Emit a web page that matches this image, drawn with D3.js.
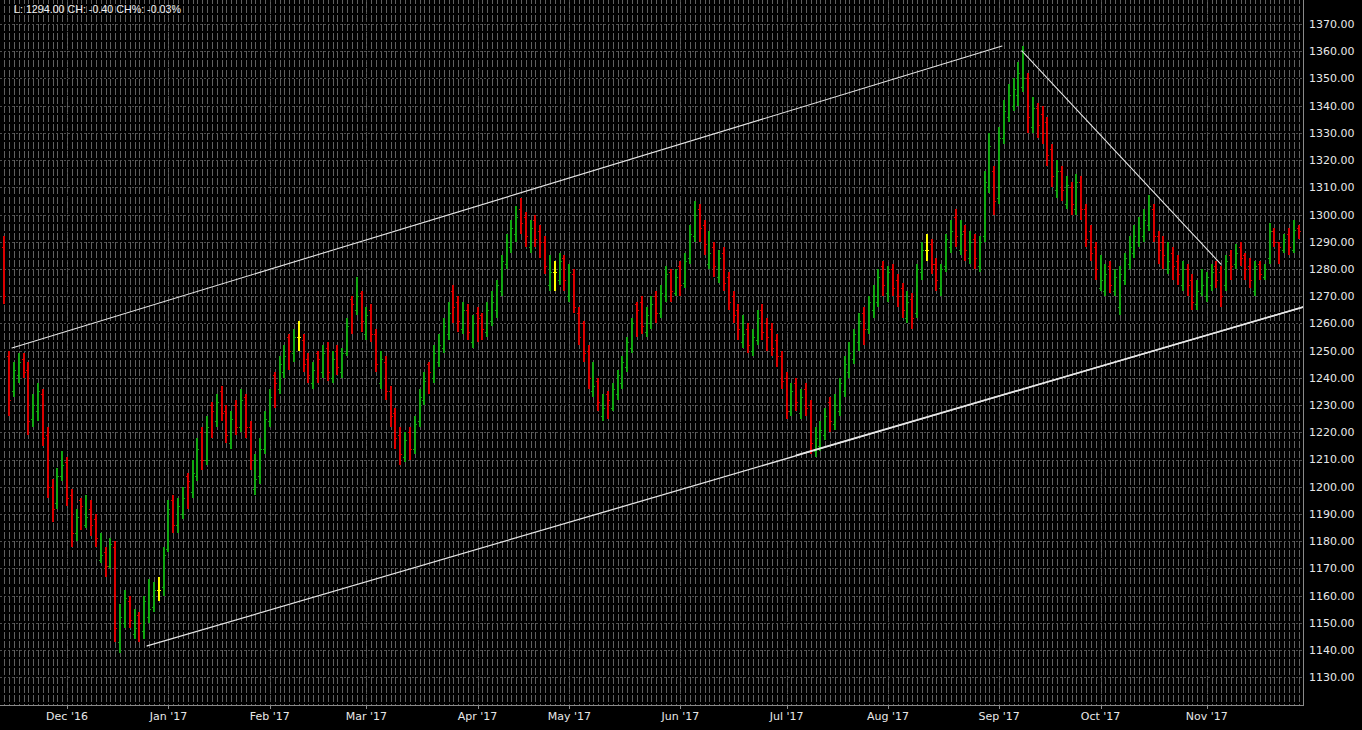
<!DOCTYPE html>
<html><head><meta charset="utf-8">
<script src="https://cdn.jsdelivr.net/npm/d3@7/dist/d3.min.js"></script>
<style>html,body{margin:0;padding:0;background:#000;overflow:hidden}</style>
</head><body>
<svg id="chart" width="1362" height="730"></svg>
<script>
// ---------- DATA ----------
const firstDay = "2016-11-11";
const holidays = ["2016-11-24","2016-12-26","2017-01-02","2017-04-14","2017-11-23"];
const barCount = 269;
const monthLabels = ["Dec '16","Jan '17","Feb '17","Mar '17","Apr '17","May '17","Jun '17","Jul '17","Aug '17","Sep '17","Oct '17","Nov '17"];
const yTicks = [1130,1140,1150,1160,1170,1180,1190,1200,1210,1220,1230,1240,1250,1260,1270,1280,1290,1300,1310,1320,1330,1340,1350,1360,1370];
const headerText = "L: 1294.00 CH: -0.40 CH%: -0.03%";

const opens = [
1288,1248,1235,1241,1247,1243,1225,1228,1234,1219,
1200,1194,1204,1209,1197,1183,1195,1186,1192,1188,
1173,1176,1171,1178,1143,1150,1158,1146,1153,1147,
1152,1156,1162,1163,1177,1195,1186,1190,1204,1198,
1204,1220,1210,1230,1224,1235,1228,1216,1230,1222,
1233,1222,1199,1204,1214,1224,1241,1236,1242,1255,
1249,1255,1254,1247,1238,1249,1242,1251,1240,1250,
1242,1249,1269,1265,1271,1256,1265,1256,1238,1246,
1235,1227,1219,1211,1220,1214,1224,1232,1245,1240,
1246,1251,1256,1272,1268,1258,1265,1253,1264,1263,
1257,1261,1265,1272,1282,1288,1293,1302,1299,1288,
1298,1294,1290,1274,1279,1276,1284,1270,1278,1264,
1260,1250,1235,1239,1226,1234,1229,1234,1238,1244,
1251,1267,1268,1257,1260,1270,1264,1270,1279,1271,
1281,1275,1284,1292,1302,1296,1282,1288,1277,1286,
1277,1270,1265,1253,1258,1250,1254,1265,1260,1258,
1254,1248,1240,1228,1238,1227,1236,1230,1213,1215,
1219,1231,1223,1228,1235,1242,1247,1253,1264,1258,
1265,1268,1281,1271,1280,1276,1273,1262,1269,1264,
1279,1287,1289,1282,1273,1281,1288,1299,1287,1294,
1284,1291,1281,1292,1310,1316,1306,1328,1336,1340,
1344,1347,1350,1332,1339,1337,1334,1324,1309,1316,
1304,1310,1302,1312,1302,1294,1288,1273,1272,1281,
1272,1266,1276,1282,1286,1290,1292,1296,1302,1292,
1290,1280,1286,1283,1274,1280,1276,1267,1271,1270,
1274,1281,1279,1274,1285,1282,1288,1285,1281,1272,
1282,1277,1284,1294,1290,1287,1293,1287,1295];

const closes = [
1270,1232,1243,1246,1242,1224,1230,1235,1218,1200,
1192,1204,1208,1196,1183,1189,1193,1189,1186,1181,
1175,1171,1179,1148,1152,1159,1151,1148,1150,1158,
1155,1162,1162,1175,1192,1186,1193,1196,1202,1205,
1214,1210,1222,1228,1231,1227,1219,1225,1222,1232,
1222,1210,1203,1214,1225,1233,1238,1245,1248,1250,
1255,1255,1245,1241,1243,1247,1249,1242,1247,1244,
1249,1259,1267,1270,1261,1263,1256,1245,1247,1235,
1226,1218,1212,1217,1214,1223,1233,1239,1242,1249,
1252,1259,1264,1266,1261,1265,1257,1260,1262,1258,
1265,1268,1274,1283,1290,1295,1299,1297,1292,1295,
1291,1290,1281,1279,1279,1283,1276,1279,1266,1255,
1249,1240,1237,1231,1229,1232,1236,1241,1246,1253,
1260,1265,1259,1263,1267,1264,1271,1278,1272,1277,
1274,1283,1293,1300,1295,1289,1286,1281,1284,1275,
1268,1263,1258,1256,1252,1255,1262,1257,1255,1251,
1248,1239,1228,1235,1231,1233,1229,1216,1218,1221,
1226,1224,1230,1238,1245,1249,1256,1261,1258,1268,
1270,1277,1274,1279,1273,1270,1265,1268,1262,1280,
1287,1287,1282,1276,1280,1291,1294,1292,1293,1287,
1290,1284,1290,1312,1325,1305,1328,1338,1344,1346,
1352,1350,1336,1339,1333,1330,1322,1314,1316,1309,
1311,1304,1312,1302,1291,1286,1280,1276,1278,1274,
1277,1278,1284,1288,1292,1295,1298,1303,1292,1287,
1285,1283,1281,1278,1280,1274,1268,1272,1274,1277,
1279,1276,1270,1283,1281,1286,1284,1280,1276,1281,
1278,1280,1294,1290,1288,1291,1288,1294.4,1294];

const highs = [
1292,1250,1246,1249,1249,1246,1234,1238,1236,1222,
1203,1207,1213,1211,1199,1192,1196,1197,1195,1190,
1183,1178,1181,1180,1157,1162,1160,1155,1154,1160,
1166,1165,1167,1178,1195,1197,1196,1200,1205,1210,
1218,1222,1226,1231,1234,1237,1230,1228,1232,1236,
1234,1224,1212,1218,1228,1236,1242,1248,1252,1256,
1258,1261,1256,1249,1246,1250,1252,1253,1250,1252,
1251,1262,1270,1277,1272,1266,1267,1258,1250,1248,
1237,1229,1222,1220,1222,1226,1236,1242,1246,1252,
1256,1262,1268,1274,1270,1268,1267,1263,1266,1264,
1268,1272,1276,1285,1293,1298,1303,1306,1301,1298,
1300,1296,1292,1285,1283,1286,1285,1282,1280,1266,
1261,1252,1246,1240,1234,1235,1238,1243,1248,1255,
1262,1268,1270,1266,1270,1272,1274,1281,1280,1280,
1283,1286,1296,1305,1304,1298,1294,1290,1287,1288,
1279,1272,1267,1263,1260,1258,1265,1267,1262,1260,
1256,1250,1242,1238,1240,1236,1238,1232,1222,1224,
1229,1233,1234,1240,1248,1253,1258,1264,1266,1270,
1274,1280,1283,1281,1282,1278,1275,1272,1271,1282,
1290,1293,1291,1284,1282,1293,1298,1302,1298,1296,
1294,1293,1292,1316,1330,1318,1332,1342,1348,1350,
1356,1362,1352,1343,1341,1340,1336,1326,1320,1318,
1314,1312,1315,1314,1304,1296,1290,1285,1282,1283,
1280,1281,1286,1292,1296,1299,1302,1307,1304,1294,
1292,1290,1288,1285,1283,1282,1278,1276,1280,1279,
1282,1283,1281,1285,1287,1289,1290,1286,1284,1283,
1283,1282,1297,1295,1290,1293,1295,1298,1296];

const lows = [
1267,1226,1233,1238,1240,1219,1222,1224,1215,1196,
1187,1192,1202,1193,1178,1180,1184,1185,1182,1178,
1172,1167,1170,1143,1139,1148,1148,1144,1143,1144,
1150,1154,1158,1160,1176,1183,1183,1188,1192,1196,
1202,1206,1208,1218,1222,1224,1216,1214,1219,1220,
1218,1206,1197,1201,1212,1222,1229,1234,1240,1243,
1246,1250,1242,1238,1236,1238,1240,1239,1238,1241,
1240,1248,1256,1263,1257,1254,1253,1242,1236,1232,
1222,1214,1208,1209,1210,1212,1222,1230,1234,1238,
1244,1249,1254,1260,1257,1256,1254,1251,1253,1254,
1255,1259,1262,1270,1280,1286,1290,1293,1288,1286,
1288,1284,1278,1272,1272,1274,1272,1268,1264,1252,
1246,1236,1233,1228,1224,1225,1228,1232,1236,1242,
1249,1255,1256,1255,1258,1260,1262,1268,1268,1270,
1270,1273,1282,1290,1290,1285,1280,1277,1275,1272,
1265,1260,1254,1251,1249,1248,1252,1254,1250,1248,
1244,1236,1225,1226,1228,1225,1226,1212,1211,1213,
1217,1220,1221,1226,1233,1240,1245,1250,1252,1256,
1262,1266,1270,1268,1270,1266,1262,1260,1258,1262,
1276,1283,1278,1272,1270,1279,1286,1288,1285,1283,
1282,1280,1279,1290,1308,1300,1304,1326,1334,1338,
1340,1345,1330,1330,1328,1326,1318,1310,1306,1305,
1302,1300,1300,1298,1288,1283,1276,1272,1270,1271,
1270,1263,1274,1280,1284,1288,1290,1294,1290,1282,
1280,1278,1276,1274,1272,1270,1265,1265,1270,1268,
1272,1273,1266,1272,1276,1280,1281,1276,1273,1270,
1276,1276,1282,1288,1282,1286,1285,1286,1291];

// trend lines: [bar index, price] at start and end
const trendStarts = [[1.6,1251],[29.6,1141.5],[164,1211.6],[210.7,1360.1]];
const trendEnds   = [[206.6,1361.9],[268.9,1266],[268.9,1266],[251.9,1281.8]];

// ---------- BUILD DATES ----------
const parse = d3.timeParse("%Y-%m-%d");
const fmtKey = d3.timeFormat("%Y-%m-%d");
const hol = new Set(holidays);
const dates = [];
let d = parse(firstDay);
while (dates.length < barCount) {
  const wd = d.getDay();
  if (wd !== 0 && wd !== 6 && !hol.has(fmtKey(d))) dates.push(new Date(d));
  d = d3.timeDay.offset(d, 1);
}
const bars = dates.map((dt, i) => ({i, date: dt, o: opens[i], h: highs[i], l: lows[i], c: closes[i]}));

// ---------- LAYOUT ----------
const W = 1362, H = 730;
const plotR = 1303, plotB = 705;
const svg = d3.select("#chart");
svg.append("rect").attr("width", W).attr("height", H).attr("fill", "#000");

const x = d3.scaleBand().domain(d3.range(barCount)).range([1.8, 1301]).paddingInner(0).paddingOuter(0);
const xc = i => x(i) + x.bandwidth() / 2;
const xi = v => x(0) + x.step() * (v + 0.5);
const y = d3.scaleLinear().domain([1130, 1370]).range([677.3, 24]);

svg.append("defs").append("clipPath").attr("id", "plot")
  .append("rect").attr("x", 0).attr("y", 0).attr("width", plotR).attr("height", plotB);

const g = svg.append("g").attr("clip-path", "url(#plot)");

// per-bar dashed verticals
g.append("g").selectAll("line").data(bars).join("line")
  .attr("x1", b => Math.round(xc(b.i)) + 0.5).attr("x2", b => Math.round(xc(b.i)) + 0.5)
  .attr("y1", 0).attr("y2", plotB)
  .attr("stroke", "#5f5f5f").attr("stroke-width", 1)
  .attr("stroke-dasharray", "7,2.07").attr("stroke-dashoffset", 3)
  .attr("shape-rendering", "crispEdges");

// horizontal grid
g.append("g").selectAll("line").data(yTicks).join("line")
  .attr("x1", 0).attr("x2", plotR)
  .attr("y1", v => Math.round(y(v)) + 0.5).attr("y2", v => Math.round(y(v)) + 0.5)
  .attr("stroke", "#4d4d4d").attr("stroke-dasharray", "2,2")
  .attr("shape-rendering", "crispEdges");

// month starts
const monthIdx = [];
bars.forEach((b, i) => { if (i > 0 && b.date.getMonth() !== bars[i-1].date.getMonth()) monthIdx.push(i); });
const months = monthIdx.map((idx, k) => ({idx, label: monthLabels[k]}));

g.append("g").selectAll("line").data(months).join("line")
  .attr("x1", m => Math.round(xc(m.idx)) + 0.5).attr("x2", m => Math.round(xc(m.idx)) + 0.5)
  .attr("y1", 0).attr("y2", plotB)
  .attr("stroke", "#4d4d4d").attr("stroke-dasharray", "2,2")
  .attr("shape-rendering", "crispEdges");

// OHLC bars
const colorOf = b => b.c > b.o ? "#12a812" : (b.c < b.o ? "#dd0000" : "#ffff00");
const bg = g.append("g");
bg.selectAll("rect.hl").data(bars).join("rect").attr("class", "hl")
  .attr("x", b => Math.round(xc(b.i)) - 1)
  .attr("y", b => y(b.h))
  .attr("width", 2)
  .attr("height", b => Math.max(1, y(b.l) - y(b.h)))
  .attr("fill", colorOf)
  .attr("shape-rendering", "crispEdges");
bg.selectAll("rect.op").data(bars).join("rect").attr("class", "op")
  .attr("x", b => Math.round(xc(b.i)) - 2)
  .attr("y", b => Math.round(y(b.o)))
  .attr("width", 1).attr("height", 1)
  .attr("fill", colorOf)
  .attr("shape-rendering", "crispEdges");
bg.selectAll("rect.cl").data(bars).join("rect").attr("class", "cl")
  .attr("x", b => Math.round(xc(b.i)) + 1)
  .attr("y", b => Math.round(y(b.c)))
  .attr("width", 1).attr("height", 1)
  .attr("fill", colorOf)
  .attr("shape-rendering", "crispEdges");

// trend lines
const trend = trendStarts.map((s, k) => ({x1: xi(s[0]), y1: y(s[1]), x2: xi(trendEnds[k][0]), y2: y(trendEnds[k][1]), k}));
g.append("g").selectAll("line").data(trend).join("line")
  .attr("x1", t => t.x1).attr("y1", t => t.y1).attr("x2", t => t.x2).attr("y2", t => t.y2)
  .attr("stroke", "#e6e6e6").attr("stroke-width", t => t.k === 1 ? 1.3 : (t.k === 2 ? 1.6 : 1.1))
  .attr("stroke-linecap", "round");

// axes frame
svg.append("line").attr("x1", plotR + 0.5).attr("x2", plotR + 0.5).attr("y1", 0).attr("y2", plotB + 0.5)
  .attr("stroke", "#8a8a8a").attr("shape-rendering", "crispEdges");
svg.append("line").attr("x1", 0).attr("x2", plotR + 0.5).attr("y1", plotB + 0.5).attr("y2", plotB + 0.5)
  .attr("stroke", "#8a8a8a").attr("shape-rendering", "crispEdges");

// y labels
svg.append("g").selectAll("text").data(yTicks).join("text")
  .attr("x", 1309).attr("y", v => y(v)).attr("dy", "0.36em")
  .attr("fill", "#e8e8e8").attr("font-family", "DejaVu Sans, Verdana, sans-serif").attr("font-size", 11)
  .text(v => d3.format(".2f")(v));

// x ticks & labels
svg.append("g").selectAll("line").data(months).join("line")
  .attr("x1", m => Math.round(xc(m.idx)) + 0.5).attr("x2", m => Math.round(xc(m.idx)) + 0.5)
  .attr("y1", plotB).attr("y2", plotB + 4)
  .attr("stroke", "#8a8a8a").attr("shape-rendering", "crispEdges");
svg.append("g").selectAll("text").data(months).join("text")
  .attr("x", m => xc(m.idx)).attr("y", 720)
  .attr("text-anchor", "middle")
  .attr("fill", "#e8e8e8").attr("font-family", "DejaVu Sans, Verdana, sans-serif").attr("font-size", 11)
  .text(m => m.label);

// header
svg.append("text").attr("x", 14).attr("y", 13)
  .attr("fill", "#f0f0f0").attr("font-family", "Liberation Sans, Arial, sans-serif").attr("font-size", 10.7)
  .text(headerText);
</script>
</body></html>
